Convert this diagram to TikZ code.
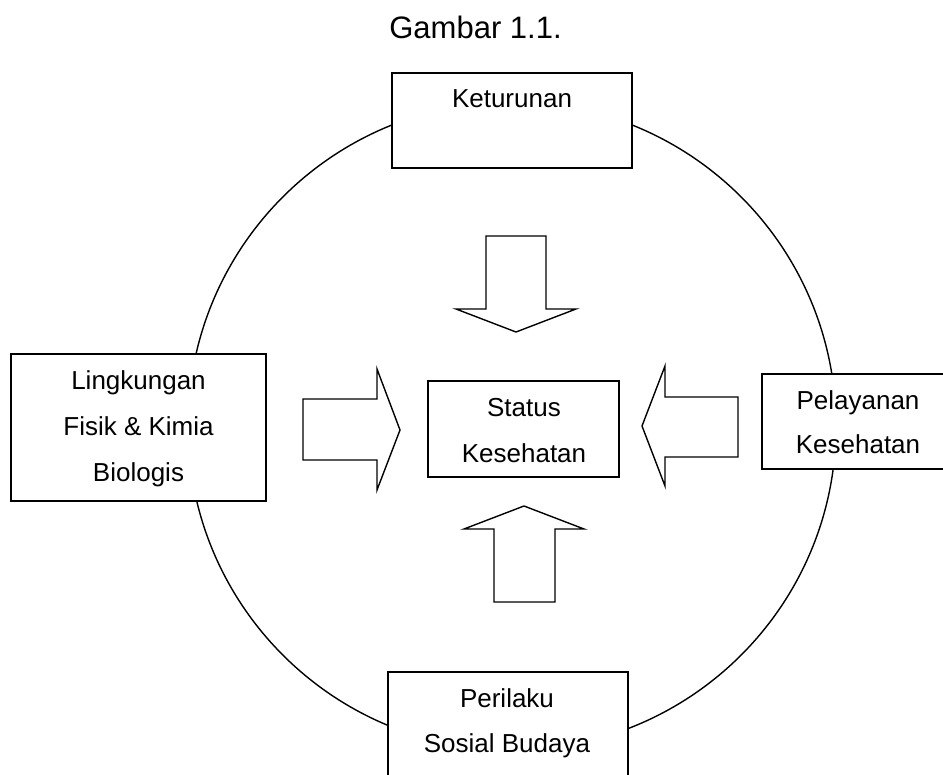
\documentclass[tikz,border=0pt]{standalone}
\usepackage{fontspec}
\setmainfont{Liberation Sans}
\begin{document}
\begin{tikzpicture}[x=1pt,y=-1pt,
  box/.style={draw, line width=1.8pt, fill=white, inner sep=0pt, outer sep=0pt, rectangle},
  lbl/.style={font=\fontsize{26}{31}\selectfont, inner sep=0pt, anchor=base},
  ttl/.style={font=\fontsize{31}{37}\selectfont, inner sep=0pt, anchor=base},
  fatarrow/.style={draw, line width=1.4pt, fill=white, line join=miter}]
\useasboundingbox (0,0) rectangle (943,775);
\clip (0,0) rectangle (943,775);
% title
\node[ttl] (title) at (475.5,39) {Gambar 1.1.};
% circle
\coordinate (cc) at (512,426);
\draw[line width=1.4pt] (cc) circle[radius=324pt];
% boxes
\node[box, minimum width=240pt, minimum height=95pt] (ket) at (512,120.5) {};
\node[box, minimum width=255pt, minimum height=147pt] (ling) at (138.5,427.5) {};
\node[box, minimum width=191pt, minimum height=96pt] (stat) at (523.5,429) {};
\node[box, minimum width=198pt, minimum height=95pt] (pel) at (861,421.5) {};
\node[box, minimum width=240pt, minimum height=128pt] (per) at (508,736) {};
% texts
\node[lbl] (tket) at (512,108) {Keturunan};
\node[lbl] (tling1) at (138.5,390) {Lingkungan};
\node[lbl] (tling2) at (138.5,435.5) {Fisik \& Kimia};
\node[lbl] (tling3) at (138.5,482) {Biologis};
\node[lbl] (tstat1) at (524,417) {Status};
\node[lbl] (tstat2) at (524,463) {Kesehatan};
\node[lbl] (tpel1) at (858,410) {Pelayanan};
\node[lbl] (tpel2) at (858,454) {Kesehatan};
\node[lbl] (tper1) at (507,707) {Perilaku};
\node[lbl] (tper2) at (507,752) {Sosial Budaya};
% block arrows
\draw[fatarrow] (486,236) -- (546,236) -- (546,309) -- (576,309) -- (516,332) -- (456,309) -- (486,309) -- cycle;
\draw[fatarrow] (494,602) -- (555,602) -- (555,529) -- (584,529) -- (524,506) -- (464,529) -- (494,529) -- cycle;
\draw[fatarrow] (303,399) -- (377,399) -- (377,369) -- (400,430) -- (377,490) -- (377,460) -- (303,460) -- cycle;
\draw[fatarrow] (738,397) -- (665,397) -- (665,366) -- (642,426) -- (665,486) -- (665,457) -- (738,457) -- cycle;
\end{tikzpicture}
\end{document}
